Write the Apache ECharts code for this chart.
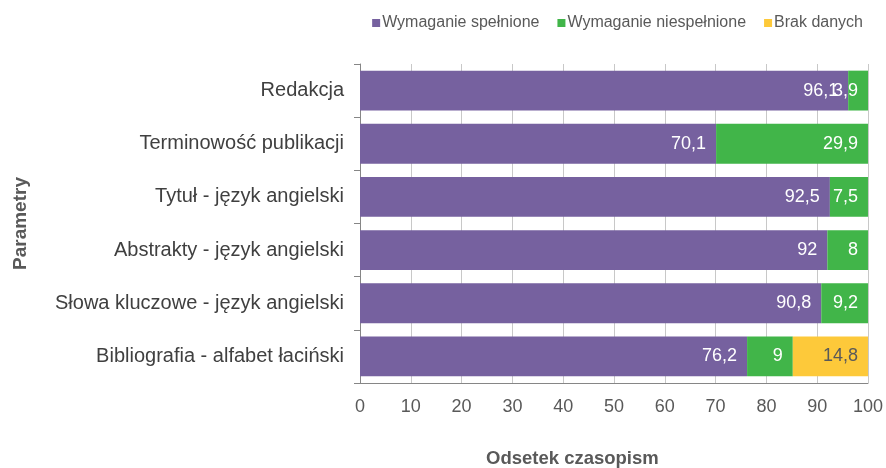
<!doctype html>
<html lang="pl">
<head>
    <meta charset="UTF-8">
    <title>Parametry czasopism</title>
    <style>
        html, body { margin: 0; padding: 0; background: #fff; }
        #main { width: 886px; height: 468px; }
    </style>
</head>
<body>
<div id="main"></div>
<script type="text/javascript" src="https://cdn.jsdelivr.net/npm/echarts@6/dist/echarts.min.js"></script>
<script type="text/javascript">
    // dane z wykresu (od góry do dołu)
    let categories = ['Redakcja', 'Terminowość publikacji', 'Tytuł - język angielski',
        'Abstrakty - język angielski', 'Słowa kluczowe - język angielski', 'Bibliografia - alfabet łaciński'];
    let spelnione = [96.1, 70.1, 92.5, 92, 90.8, 76.2];
    let niespelnione = [3.9, 29.9, 7.5, 8, 9.2, 9];
    let brakDanych = [0, 0, 0, 0, 0, 14.8];
    let xTicks = [0, 10, 20, 30, 40, 50, 60, 70, 80, 90, 100];

    let myChart = echarts.init(document.getElementById('main'));
    let font = 'Liberation Sans, Arial, sans-serif';

    function fmt(p) {
        if (!p.value) return '';
        return String(p.value).replace('.', ',');
    }

    function serie(name, data, color, labelColor) {
        return {
            name: name,
            type: 'bar',
            stack: 'all',
            data: data,
            barCategoryGap: '25%',
            itemStyle: {color: color},
            label: {
                show: true,
                position: 'insideRight',
                distance: 10,
                color: labelColor,
                fontSize: 18,
                fontFamily: font,
                formatter: fmt
            }
        };
    }

    let option = {
        animation: false,
        backgroundColor: '#ffffff',
        textStyle: {fontFamily: font},
        title: {
            text: 'Odsetek czasopism',
            left: 481,
            top: 444,
            textStyle: {fontSize: 18.5, fontWeight: 'bold', color: '#595959', fontFamily: font}
        },
        legend: {
            right: 18,
            top: 10,
            itemWidth: 8,
            itemHeight: 8,
            itemGap: 18,
            icon: 'rect',
            textStyle: {fontSize: 16, color: '#595959', fontFamily: font, padding: [0, 0, 0, -3]},
            data: ['Wymaganie spełnione', 'Wymaganie niespełnione', 'Brak danych']
        },
        grid: {left: 360, right: 17, top: 64, bottom: 85},
        xAxis: {
            type: 'value',
            min: xTicks[0],
            max: xTicks[xTicks.length - 1],
            interval: 10,
            axisLine: {show: true, lineStyle: {color: '#868686'}},
            axisTick: {show: false},
            axisLabel: {fontSize: 18, color: '#595959', margin: 15, fontFamily: font},
            splitLine: {show: true, lineStyle: {color: '#c8c8c8'}}
        },
        yAxis: {
            type: 'category',
            inverse: true,
            data: categories,
            name: 'Parametry',
            nameLocation: 'middle',
            nameGap: 330,
            nameTextStyle: {fontSize: 19, fontWeight: 'bold', color: '#595959', fontFamily: font},
            axisLine: {show: true, lineStyle: {color: '#868686'}},
            axisTick: {show: true, length: 6, lineStyle: {color: '#868686'}},
            axisLabel: {fontSize: 20, color: '#404040', margin: 16, fontFamily: font}
        },
        series: [
            serie('Wymaganie spełnione', spelnione, '#76619f', '#ffffff'),
            serie('Wymaganie niespełnione', niespelnione, '#41b549', '#ffffff'),
            serie('Brak danych', brakDanych, '#fdc93a', '#595959')
        ]
    };
    myChart.setOption(option);
</script>
</body>
</html>
